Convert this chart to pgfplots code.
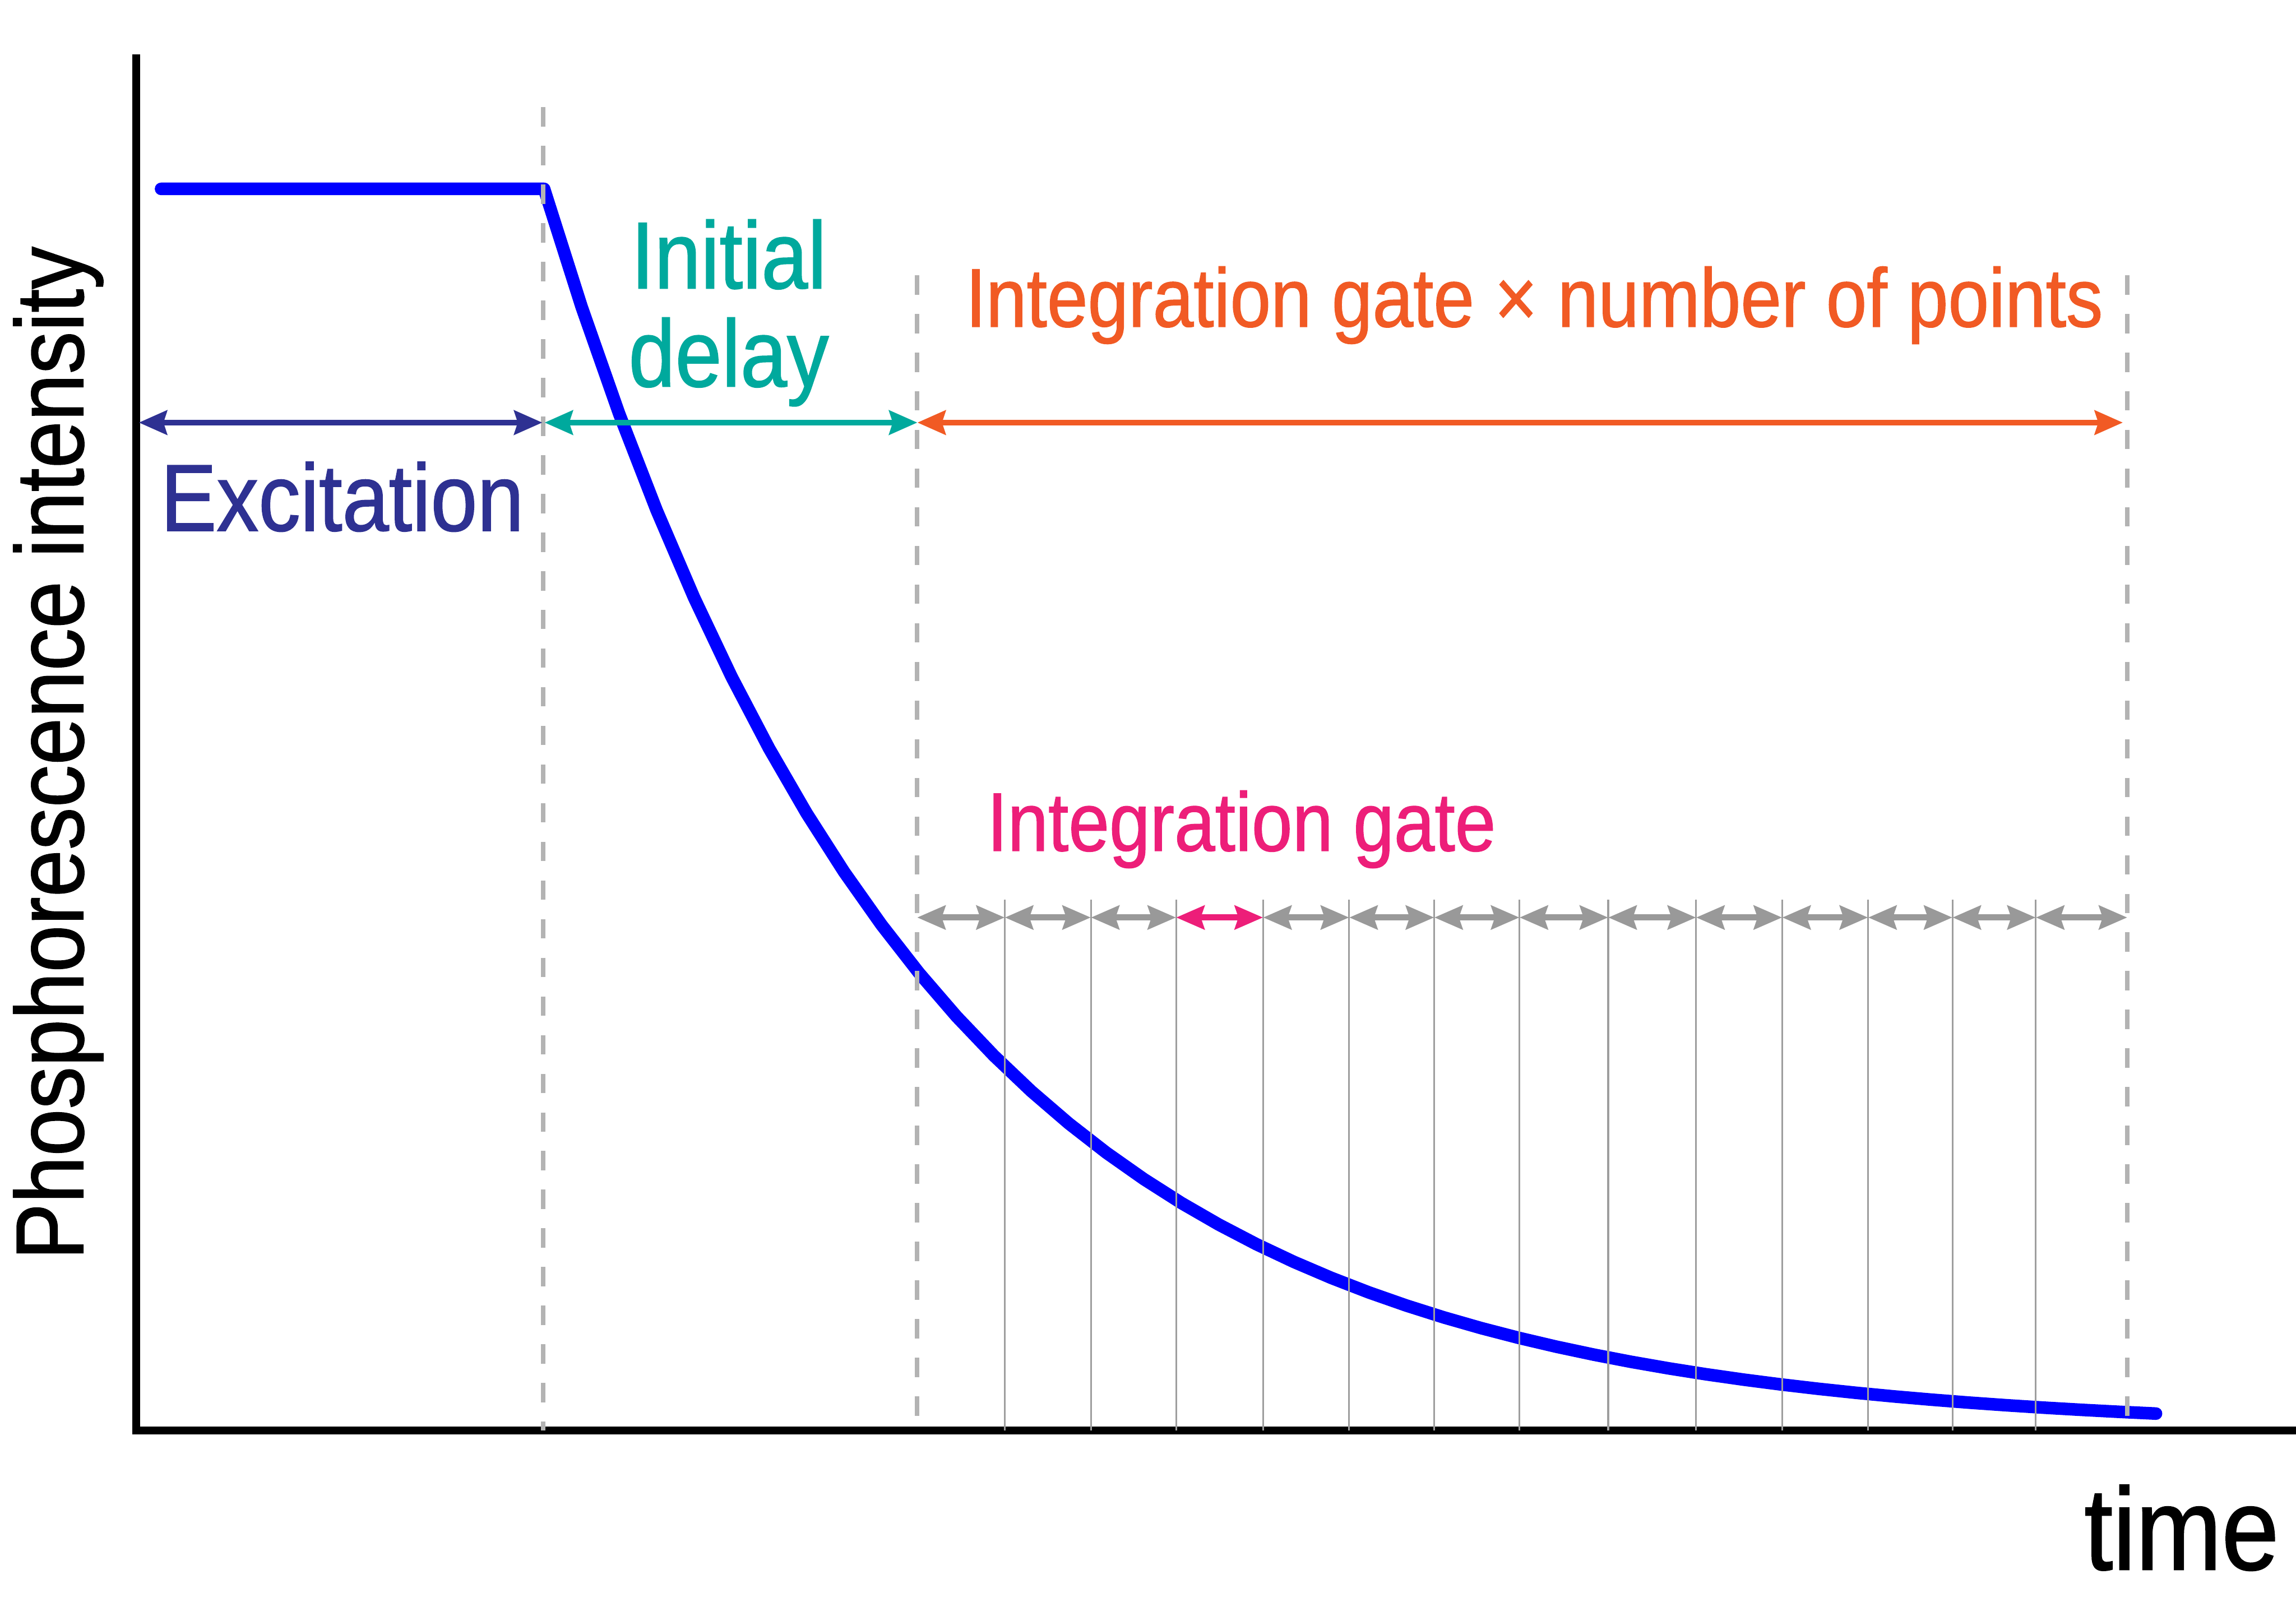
\documentclass[border=0pt]{standalone}
\usepackage{pgfplots}
\pgfplotsset{compat=1.18}
\usepackage{fontspec}
\setmainfont[FakeStretch=0.88,FakeBold=1.0]{Liberation Sans}
\usetikzlibrary{arrows.meta}
\definecolor{excblue}{HTML}{2E3192}
\definecolor{tealc}{HTML}{00A99D}
\definecolor{orangec}{HTML}{F15A24}
\definecolor{pinkc}{HTML}{ED1E79}
\definecolor{grayarr}{HTML}{999999}
\definecolor{graythin}{HTML}{9E9E9E}
\definecolor{graydash}{HTML}{B3B3B3}
\tikzset{
  mainarr/.style={line width=0.98pt, {Stealth[length=4.8pt,width=4.1pt,inset=0.6pt]}-{Stealth[length=4.8pt,width=4.1pt,inset=0.6pt]}},
  gatearr/.style={line width=1.05pt, {Stealth[length=4.8pt,width=4pt,inset=0.6pt]}-{Stealth[length=4.8pt,width=4pt,inset=0.6pt]}},
}
\begin{document}
\begin{tikzpicture}
\begin{axis}[
  scale only axis,
  width=368.775pt, height=234.25pt,
  xmin=92.9, xmax=1568, ymin=0, ymax=937,
  axis lines=left,
  axis line style={-, line width=1.35pt, line cap=rect, black},
  xtick=\empty, ytick=\empty,
  clip=false,
]
% decay curve
\addplot[color=blue, line width=2.15pt, line cap=round, line join=round] coordinates {
(110,848) (371.6,848) (397.2,767.45) (422.8,694.55) (448.4,628.58) (474.0,568.87)
(499.6,514.83) (525.2,465.93) (550.8,421.67) (576.4,381.62) (602.0,345.37)
(627.6,312.56) (653.2,282.87) (678.8,256.00) (704.4,231.68) (730.0,209.67)
(755.6,189.75) (781.2,171.73) (806.8,155.42) (832.4,140.66) (858.0,127.30)
(883.6,115.21) (909.2,104.27) (934.8,94.36) (960.4,85.40) (986.0,77.29)
(1011.6,69.95) (1037.2,63.31) (1062.8,57.30) (1088.4,51.86) (1114.0,46.93)
(1139.6,42.47) (1165.2,38.43) (1190.8,34.78) (1216.4,31.48) (1242.0,28.49)
(1267.6,25.78) (1293.2,23.33) (1318.8,21.12) (1344.4,19.11) (1370.0,17.30)
(1395.6,15.66) (1421.2,14.17) (1446.8,12.82) (1472.4,11.60)
};
% dashed guide lines
\draw[graydash, line width=0.78pt, dash pattern=on 3.3pt off 3.3pt] (axis cs:370.8,903.7) -- (axis cs:370.8,0);
\draw[graydash, line width=0.78pt, dash pattern=on 3.3pt off 3.3pt] (axis cs:626.3,789) -- (axis cs:626.3,0);
\draw[graydash, line width=0.78pt, dash pattern=on 3.3pt off 3.3pt] (axis cs:1452.8,789) -- (axis cs:1452.8,0);
% thin gate boundaries
\draw[graythin, line width=0.3pt]
  (axis cs:686.2,362.6) -- (axis cs:686.2,0)
  (axis cs:745.0,362.6) -- (axis cs:745.0,0)
  (axis cs:803.2,362.6) -- (axis cs:803.2,0)
  (axis cs:862.6,362.6) -- (axis cs:862.6,0)
  (axis cs:921.4,362.6) -- (axis cs:921.4,0)
  (axis cs:979.5,362.6) -- (axis cs:979.5,0)
  (axis cs:1037.7,362.6) -- (axis cs:1037.7,0)
  (axis cs:1098.3,362.6) -- (axis cs:1098.3,0)
  (axis cs:1158.3,362.6) -- (axis cs:1158.3,0)
  (axis cs:1217.1,362.6) -- (axis cs:1217.1,0)
  (axis cs:1275.8,362.6) -- (axis cs:1275.8,0)
  (axis cs:1333.4,362.6) -- (axis cs:1333.4,0)
  (axis cs:1390.3,362.6) -- (axis cs:1390.3,0);
% gate arrows
\draw[gatearr, grayarr] (axis cs:626.3,350.4) -- (axis cs:686.2,350.4);
\draw[gatearr, grayarr] (axis cs:686.2,350.4) -- (axis cs:745.0,350.4);
\draw[gatearr, grayarr] (axis cs:745.0,350.4) -- (axis cs:803.2,350.4);
\draw[gatearr, pinkc] (axis cs:803.2,350.4) -- (axis cs:862.6,350.4);
\draw[gatearr, grayarr] (axis cs:862.6,350.4) -- (axis cs:921.4,350.4);
\draw[gatearr, grayarr] (axis cs:921.4,350.4) -- (axis cs:979.5,350.4);
\draw[gatearr, grayarr] (axis cs:979.5,350.4) -- (axis cs:1037.7,350.4);
\draw[gatearr, grayarr] (axis cs:1037.7,350.4) -- (axis cs:1098.3,350.4);
\draw[gatearr, grayarr] (axis cs:1098.3,350.4) -- (axis cs:1158.3,350.4);
\draw[gatearr, grayarr] (axis cs:1158.3,350.4) -- (axis cs:1217.1,350.4);
\draw[gatearr, grayarr] (axis cs:1217.1,350.4) -- (axis cs:1275.8,350.4);
\draw[gatearr, grayarr] (axis cs:1275.8,350.4) -- (axis cs:1333.4,350.4);
\draw[gatearr, grayarr] (axis cs:1333.4,350.4) -- (axis cs:1390.3,350.4);
\draw[gatearr, grayarr] (axis cs:1390.3,350.4) -- (axis cs:1452.8,350.4);
% main arrows
\draw[mainarr, excblue] (axis cs:94.8,688.4) -- (axis cs:370.4,688.4);
\draw[mainarr, tealc] (axis cs:371.9,688.4) -- (axis cs:626.5,688.4);
\draw[mainarr, orangec] (axis cs:626.5,688.4) -- (axis cs:1449.8,688.4);
% labels
\node[anchor=base west, inner sep=0pt, excblue, font=\fontsize{16.25pt}{19pt}\selectfont] at (axis cs:109,614.5) {Excitation};
\node[anchor=base, inner sep=0pt, tealc, font=\fontsize{16.25pt}{19pt}\selectfont] at (axis cs:497.7,780) {Initial};
\node[anchor=base, inner sep=0pt, tealc, font=\fontsize{16.25pt}{19pt}\selectfont] at (axis cs:497.7,713) {delay};
\node[anchor=base west, inner sep=0pt, orangec, font=\fontsize{14.2pt}{17pt}\selectfont] at (axis cs:658.7,753.9) {Integration gate × number of points};
\node[anchor=base west, inner sep=0pt, pinkc, font=\fontsize{14.2pt}{17pt}\selectfont] at (axis cs:673.4,395.9) {Integration gate};
\node[anchor=base west, inner sep=0pt, black, rotate=90, font=\fontsize{16.45pt}{19pt}\selectfont] at (axis cs:56.8,115.8) {Phosphorescence intensity};
\node[anchor=base west, inner sep=0pt, black, font=\fontsize{20pt}{24pt}\selectfont] at (axis cs:1422.6,-95) {time};
\coordinate (bbll) at (axis cs:0,-117);
\coordinate (bbur) at (axis cs:1568,977);
\end{axis}
\pgfresetboundingbox
\useasboundingbox (bbll) rectangle (bbur);
\end{tikzpicture}
\end{document}
